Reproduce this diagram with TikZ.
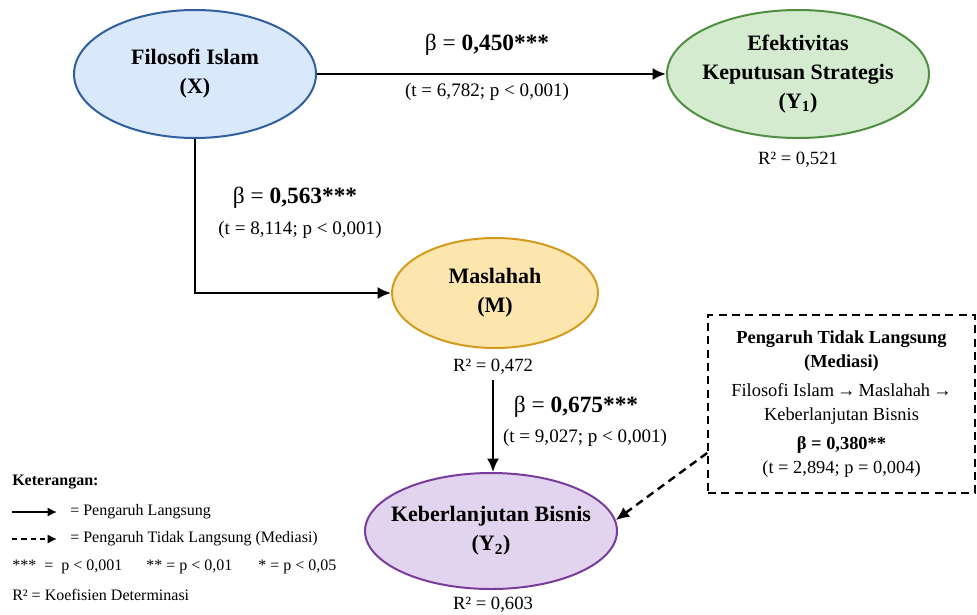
\documentclass[tikz,border=0pt]{standalone}
\usepackage{fontspec}
\setmainfont{Liberation Serif}
\usepackage{xcolor}
\usetikzlibrary{arrows.meta,shapes.geometric,positioning}

\definecolor{xfill}{HTML}{DAE8FC}
\definecolor{xline}{HTML}{2F5F9E}
\definecolor{yafill}{HTML}{D5EBD0}
\definecolor{yaline}{HTML}{4E8F41}
\definecolor{mfill}{HTML}{FCE6AE}
\definecolor{mline}{HTML}{D29B1E}
\definecolor{ybfill}{HTML}{E2D4EE}
\definecolor{ybline}{HTML}{7A3C9C}

\begin{document}
\begin{tikzpicture}[
    x=0.75pt, y=-0.75pt,
    latent/.style={ellipse, draw, line width=1.5pt, inner sep=0},
    vartext/.style={align=center, font=\fontsize{16.5}{21.75}\selectfont\bfseries},
    coef/.style={font=\fontsize{17.5}{20}\selectfont, inner sep=0},
    stat/.style={font=\fontsize{14.3}{17}\selectfont, inner sep=0},
    rsq/.style={font=\fontsize{14}{16}\selectfont, inner sep=0},
    legend/.style={font=\fontsize{12}{14}\selectfont, inner sep=0, anchor=west},
    direct/.style={draw, line width=1.8pt, -{Latex[length=10pt, width=9pt]}},
    indirect/.style={direct, dash pattern=on 6pt off 4pt},
    smalltip/.style={-{Latex[length=7pt, width=7pt]}},
    mediasi/.style={draw, line width=1.3pt, dash pattern=on 6pt off 4pt, inner sep=0,
        minimum width=200.25pt, minimum height=133.5pt, align=center,
        font=\fontsize{13.8}{18}\selectfont}]
\useasboundingbox (0,0) rectangle (977,614);

\node[latent, fill=xfill, draw=xline, minimum width=181.5pt, minimum height=96pt,
    label={[vartext]center:{Filosofi Islam\\(X)}}] (X) at (195,74) {};
\node[latent, fill=yafill, draw=yaline, minimum width=196.5pt, minimum height=96pt,
    label={[vartext]center:{Efektivitas\\Keputusan Strategis\\(Y\textsubscript{1})}}] (Y1) at (798,74) {};
\node[latent, fill=mfill, draw=mline, minimum width=154.5pt, minimum height=82.5pt,
    label={[vartext]center:{Maslahah\\(M)}}] (M) at (495,293) {};
\node[latent, fill=ybfill, draw=ybline, minimum width=189pt, minimum height=87pt,
    label={[vartext]center:{Keberlanjutan Bisnis\\(Y\textsubscript{2})}}] (Y2) at (491,531) {};

\node[rsq] (rY1) at (798,160) {R² = 0,521};
\node[rsq] (rM) at (493,367) {R² = 0,472};
\node[rsq] (rY2) at (493,605) {R² = 0,603};

\node[coef] (bXY) at (487,45) {β = \textbf{0,450***}};
\node[stat] (tXY) at (487,92) {(t = 6,782; p < 0,001)};
\node[coef] (bXM) at (295,198) {β = \textbf{0,563***}};
\node[stat] (tXM) at (300,230) {(t = 8,114; p < 0,001)};
\node[coef] (bMY) at (576,407) {β = \textbf{0,675***}};
\node[stat] (tMY) at (585,438) {(t = 9,027; p < 0,001)};

\node[mediasi] (box) at (841.5,404) {\textbf{Pengaruh Tidak Langsung}\\\textbf{(Mediasi)}\\[4pt]
    Filosofi Islam\,→\,Maslahah\,→\\Keberlanjutan Bisnis\\[4pt]
    \textbf{β = 0,380**}\\(t = 2,894; p = 0,004)};

\path[direct] (X) -- (Y1);
\path[direct] (X.south) |- (M.west);
\path[direct] ([yshift=-4pt]rM.south) -- (rM.south |- Y2.north);
\path[indirect] ([yshift=-36.75pt]box.west) -- (Y2.5);

\node[legend, font=\fontsize{12}{14}\selectfont\bfseries] (keterangan) at (12,482) {Keterangan:};
\coordinate (leg1a) at (12,512);
\coordinate (leg1b) at (57,512);
\path[direct, smalltip] (leg1a) -- (leg1b);
\node[legend] (leg1) at (70,512) {= Pengaruh Langsung};
\coordinate (leg2a) at (12,539);
\coordinate (leg2b) at (57,539);
\path[indirect, smalltip, dash pattern=on 4pt off 3pt] (leg2a) -- (leg2b);
\node[legend] (leg2) at (70,539) {= Pengaruh Tidak Langsung (Mediasi)};
\node[legend] (leg3a) at (12,567) {***~~=~~p < 0,001};
\node[legend] (leg3b) at (146,567) {** = p < 0,01};
\node[legend] (leg3c) at (258,567) {* = p < 0,05};
\node[legend] (leg4) at (12,595) {R² = Koefisien Determinasi};

\end{tikzpicture}
\end{document}
